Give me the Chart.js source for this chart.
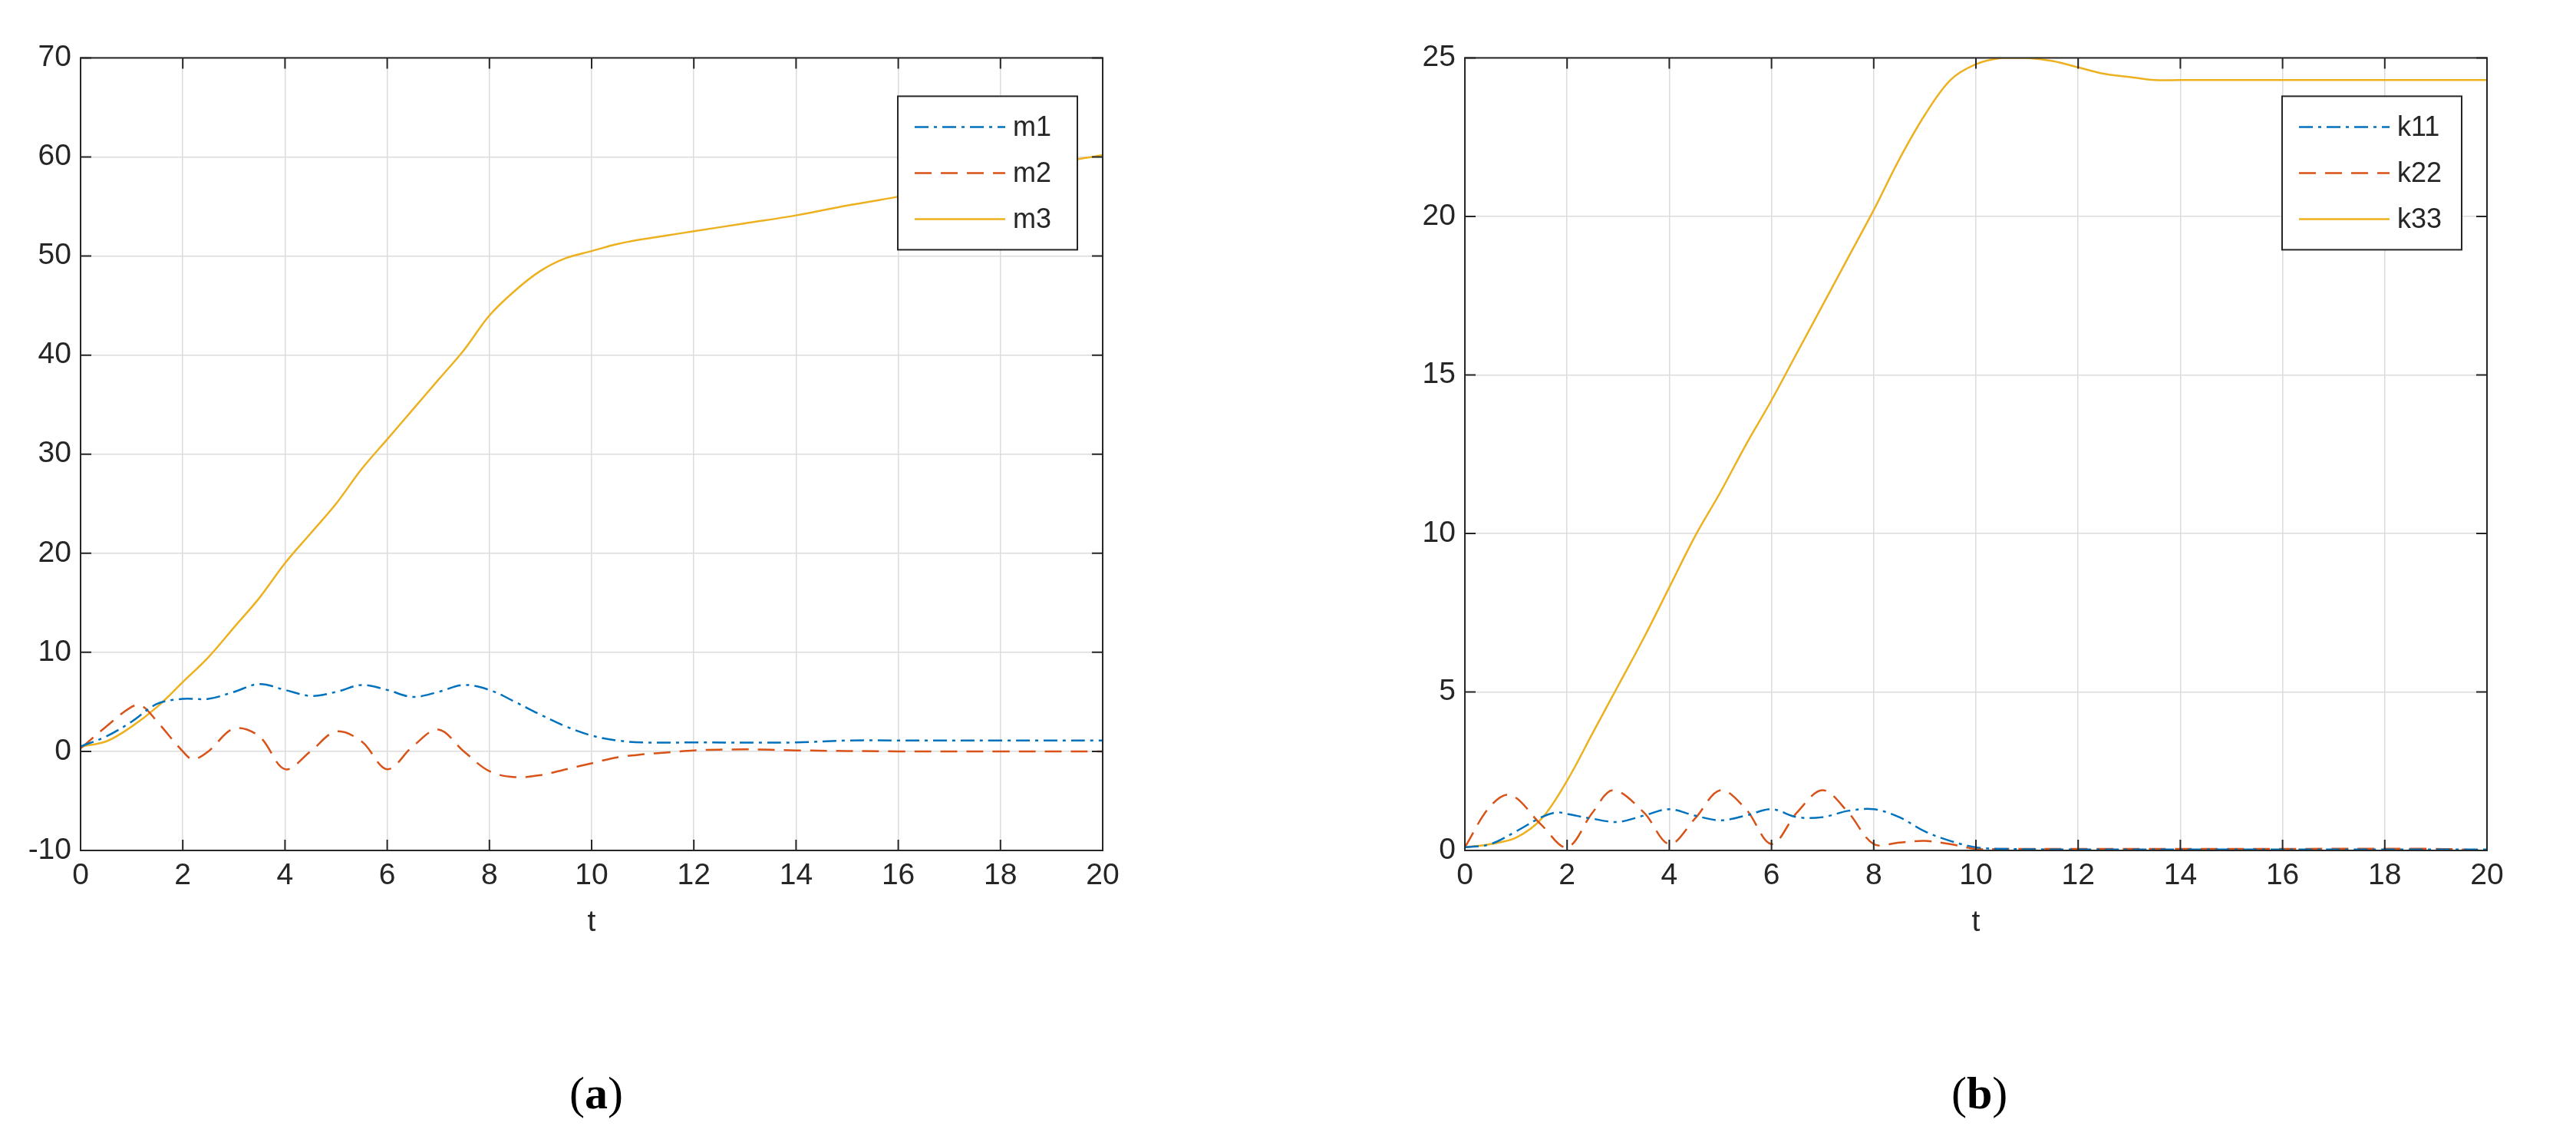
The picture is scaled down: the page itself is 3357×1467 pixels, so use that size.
<!DOCTYPE html>
<html>
<head>
<meta charset="utf-8">
<script src="https://cdn.jsdelivr.net/npm/chart.js@4.4.0/dist/chart.umd.min.js"></script>
<style>
  body { margin: 0; background: #fff; width: 3357px; height: 1467px; position: relative; overflow: hidden; }
  .box { position: absolute; top: 40px; width: 1520px; height: 1190px; }
  .cap { position: absolute; top: 1390px; font-family: "Liberation Serif", serif; font-size: 60px; }
</style>
</head>
<body>
<div class="box" style="left:0px"><canvas id="chartA"></canvas></div>
<div class="box" style="left:1800px"><canvas id="chartB"></canvas></div>
<div class="cap" style="left:742px">(<b>a</b>)</div>
<div class="cap" style="left:2543px">(<b>b</b>)</div>
<script>
// panel (a)
const tM3 = [0,0.5,1,1.5,2,2.5,3,3.5,4,4.5,5,5.5,6,6.5,7,7.5,8,8.5,9,9.5,10,10.5,11,11.5,12,13,14,15,16,17,18,19,20];
const m3 = [0.5,1,2.5,4.5,7,9.5,12.5,15.5,19,22,25,28.5,31.5,34.5,37.5,40.5,44,46.5,48.5,49.8,50.5,51.2,51.7,52.1,52.5,53.3,54.1,55.1,56,57.2,58.3,59.3,60.2];
const tM1 = [0,0.5,1,1.5,2,2.5,3,3.5,4,4.5,5,5.5,6,6.5,7,7.5,8,8.5,9,9.5,10,10.5,11,12,14,15,16,18,20];
const m1 = [0.5,1.5,3,4.8,5.3,5.3,6,6.8,6.2,5.6,6,6.7,6.2,5.5,6,6.7,6.2,5,3.7,2.5,1.6,1.1,0.9,0.9,0.9,1.1,1.1,1.1,1.1];
const tM2 = [0,0.5,1,1.2,1.5,2,2.2,2.5,3,3.5,4,4.5,5,5.5,6,6.5,7,7.5,8,8.5,9,9.5,10,10.5,11,11.5,12,13,14,16,18,20];
const m2 = [0.3,2.5,4.5,4.6,3,0,-0.8,0,2.3,1.5,-1.8,0,2,1,-1.8,0.5,2.2,0,-2,-2.6,-2.4,-1.8,-1.2,-0.6,-0.3,-0.1,0.1,0.2,0.1,0,0,0];
// panel (b)
const tK33 = [0,0.5,1,1.5,2,2.5,3,3.5,4,4.5,5,5.5,6,6.5,7,7.5,8,8.5,9,9.5,10,10.5,11,11.5,12,12.5,13,13.5,14,15,16,18,20];
const k33 = [0.1,0.2,0.4,1,2.2,3.7,5.2,6.7,8.3,9.9,11.3,12.8,14.2,15.7,17.2,18.7,20.2,21.8,23.2,24.3,24.8,25,25,24.9,24.7,24.5,24.4,24.3,24.3,24.3,24.3,24.3,24.3];
const tK11 = [0,0.5,1,1.5,1.8,2,2.5,3,3.5,4,4.5,5,5.5,6,6.5,7,7.5,8,8.5,9,9.5,10,10.5,12,16,20];
const k11 = [0.1,0.2,0.6,1.05,1.2,1.15,1,0.9,1.1,1.3,1.1,0.95,1.1,1.3,1.05,1.05,1.25,1.3,1.05,0.6,0.3,0.1,0.05,0.03,0.03,0.03];
const tK22 = [0,0.5,0.9,1.5,2,2.5,2.9,3.5,4,4.5,5,5.5,6,6.5,7,7.5,8,8.5,9,9.5,10,10.5,12,16,19,20];
const k22 = [0.1,1.4,1.75,0.8,0.1,1.2,1.9,1.2,0.2,1,1.9,1.3,0.2,1.2,1.9,1.2,0.2,0.25,0.3,0.2,0.05,0.05,0.05,0.05,0.05,0];

const BLUE = '#0072BD', RED = '#D95319', YEL = '#EDB120';
const FONT = { family: 'Liberation Sans, Arial, sans-serif', size: 39 };

function pts(xs, ys) { return xs.map((x, i) => ({ x: x, y: ys[i] })); }

function ds(label, xs, ys, color, dash) {
    return { label: label, data: pts(xs, ys), borderColor: color, borderWidth: 2.5,
             borderDash: dash, pointRadius: 0, tension: 0.35, fill: false };
}

// black frame, inward ticks and boxed legend
const framePlugin = {
    id: 'frame',
    afterDraw(chart) {
        const c = chart.ctx, a = chart.chartArea;
        const xs = chart.scales.x, ys = chart.scales.y;
        c.save();
        c.strokeStyle = '#262626';
        c.lineWidth = 2;
        c.strokeRect(a.left, a.top, a.right - a.left, a.bottom - a.top);
        c.beginPath();
        xs.ticks.forEach(t => {
            const p = xs.getPixelForValue(t.value);
            c.moveTo(p, a.bottom); c.lineTo(p, a.bottom - 14);
            c.moveTo(p, a.top); c.lineTo(p, a.top + 14);
        });
        ys.ticks.forEach(t => {
            const p = ys.getPixelForValue(t.value);
            c.moveTo(a.left, p); c.lineTo(a.left + 14, p);
            c.moveTo(a.right, p); c.lineTo(a.right - 14, p);
        });
        c.stroke();
        // legend
        const w = 234, h = 200, lx = a.right - w - 33, ly = a.top + 50;
        c.fillStyle = '#fff';
        c.fillRect(lx, ly, w, h);
        c.strokeStyle = '#262626';
        c.strokeRect(lx, ly, w, h);
        c.font = '36px Liberation Sans, Arial, sans-serif';
        c.textBaseline = 'middle';
        chart.data.datasets.forEach((d, i) => {
            const y = ly + 40 + i * 60;
            c.strokeStyle = d.borderColor;
            c.lineWidth = 2.5;
            c.setLineDash(d.borderDash || []);
            c.beginPath(); c.moveTo(lx + 22, y); c.lineTo(lx + 140, y); c.stroke();
            c.setLineDash([]);
            c.fillStyle = '#262626';
            c.fillText(d.label, lx + 150, y + 2);
        });
        c.restore();
    }
};

function makeChart(id, datasets, ymin, ymax, ystep, yw, rightPad) {
    return new Chart(document.getElementById(id), {
        type: 'line',
        data: { datasets: datasets },
        options: {
            responsive: true, maintainAspectRatio: false, animation: false,
            layout: { padding: { top: 23, right: rightPad, left: 0, bottom: 0 } },
            plugins: { legend: { display: false }, tooltip: { enabled: false } },
            scales: {
                x: {
                    type: 'linear', min: 0, max: 20,
                    ticks: { stepSize: 2, color: '#262626', font: FONT, padding: 10 },
                    grid: { color: '#dcdcdc', lineWidth: 1.5, drawTicks: false },
                    border: { display: false },
                    title: { display: true, text: 't', color: '#262626', font: FONT, padding: { top: 14 } },
                    afterFit: s => { s.height = 122; }
                },
                y: {
                    min: ymin, max: ymax,
                    ticks: { stepSize: ystep, color: '#262626', font: FONT, padding: 12 },
                    grid: { color: '#dcdcdc', lineWidth: 1.5, drawTicks: false },
                    border: { display: false },
                    afterFit: s => { s.width = yw; }
                }
            }
        },
        plugins: [framePlugin]
    });
}

makeChart('chartA', [
    ds('m1', tM1, m1, BLUE, [18, 7, 4, 7]),
    ds('m2', tM2, m2, RED, [22, 12]),
    ds('m3', tM3, m3, YEL, [])
], -10, 70, 10, 105, 83);

makeChart('chartB', [
    ds('k11', tK11, k11, BLUE, [18, 7, 4, 7]),
    ds('k22', tK22, k22, RED, [22, 12]),
    ds('k33', tK33, k33, YEL, [])
], 0, 25, 5, 109, 79);
</script>
</body>
</html>
